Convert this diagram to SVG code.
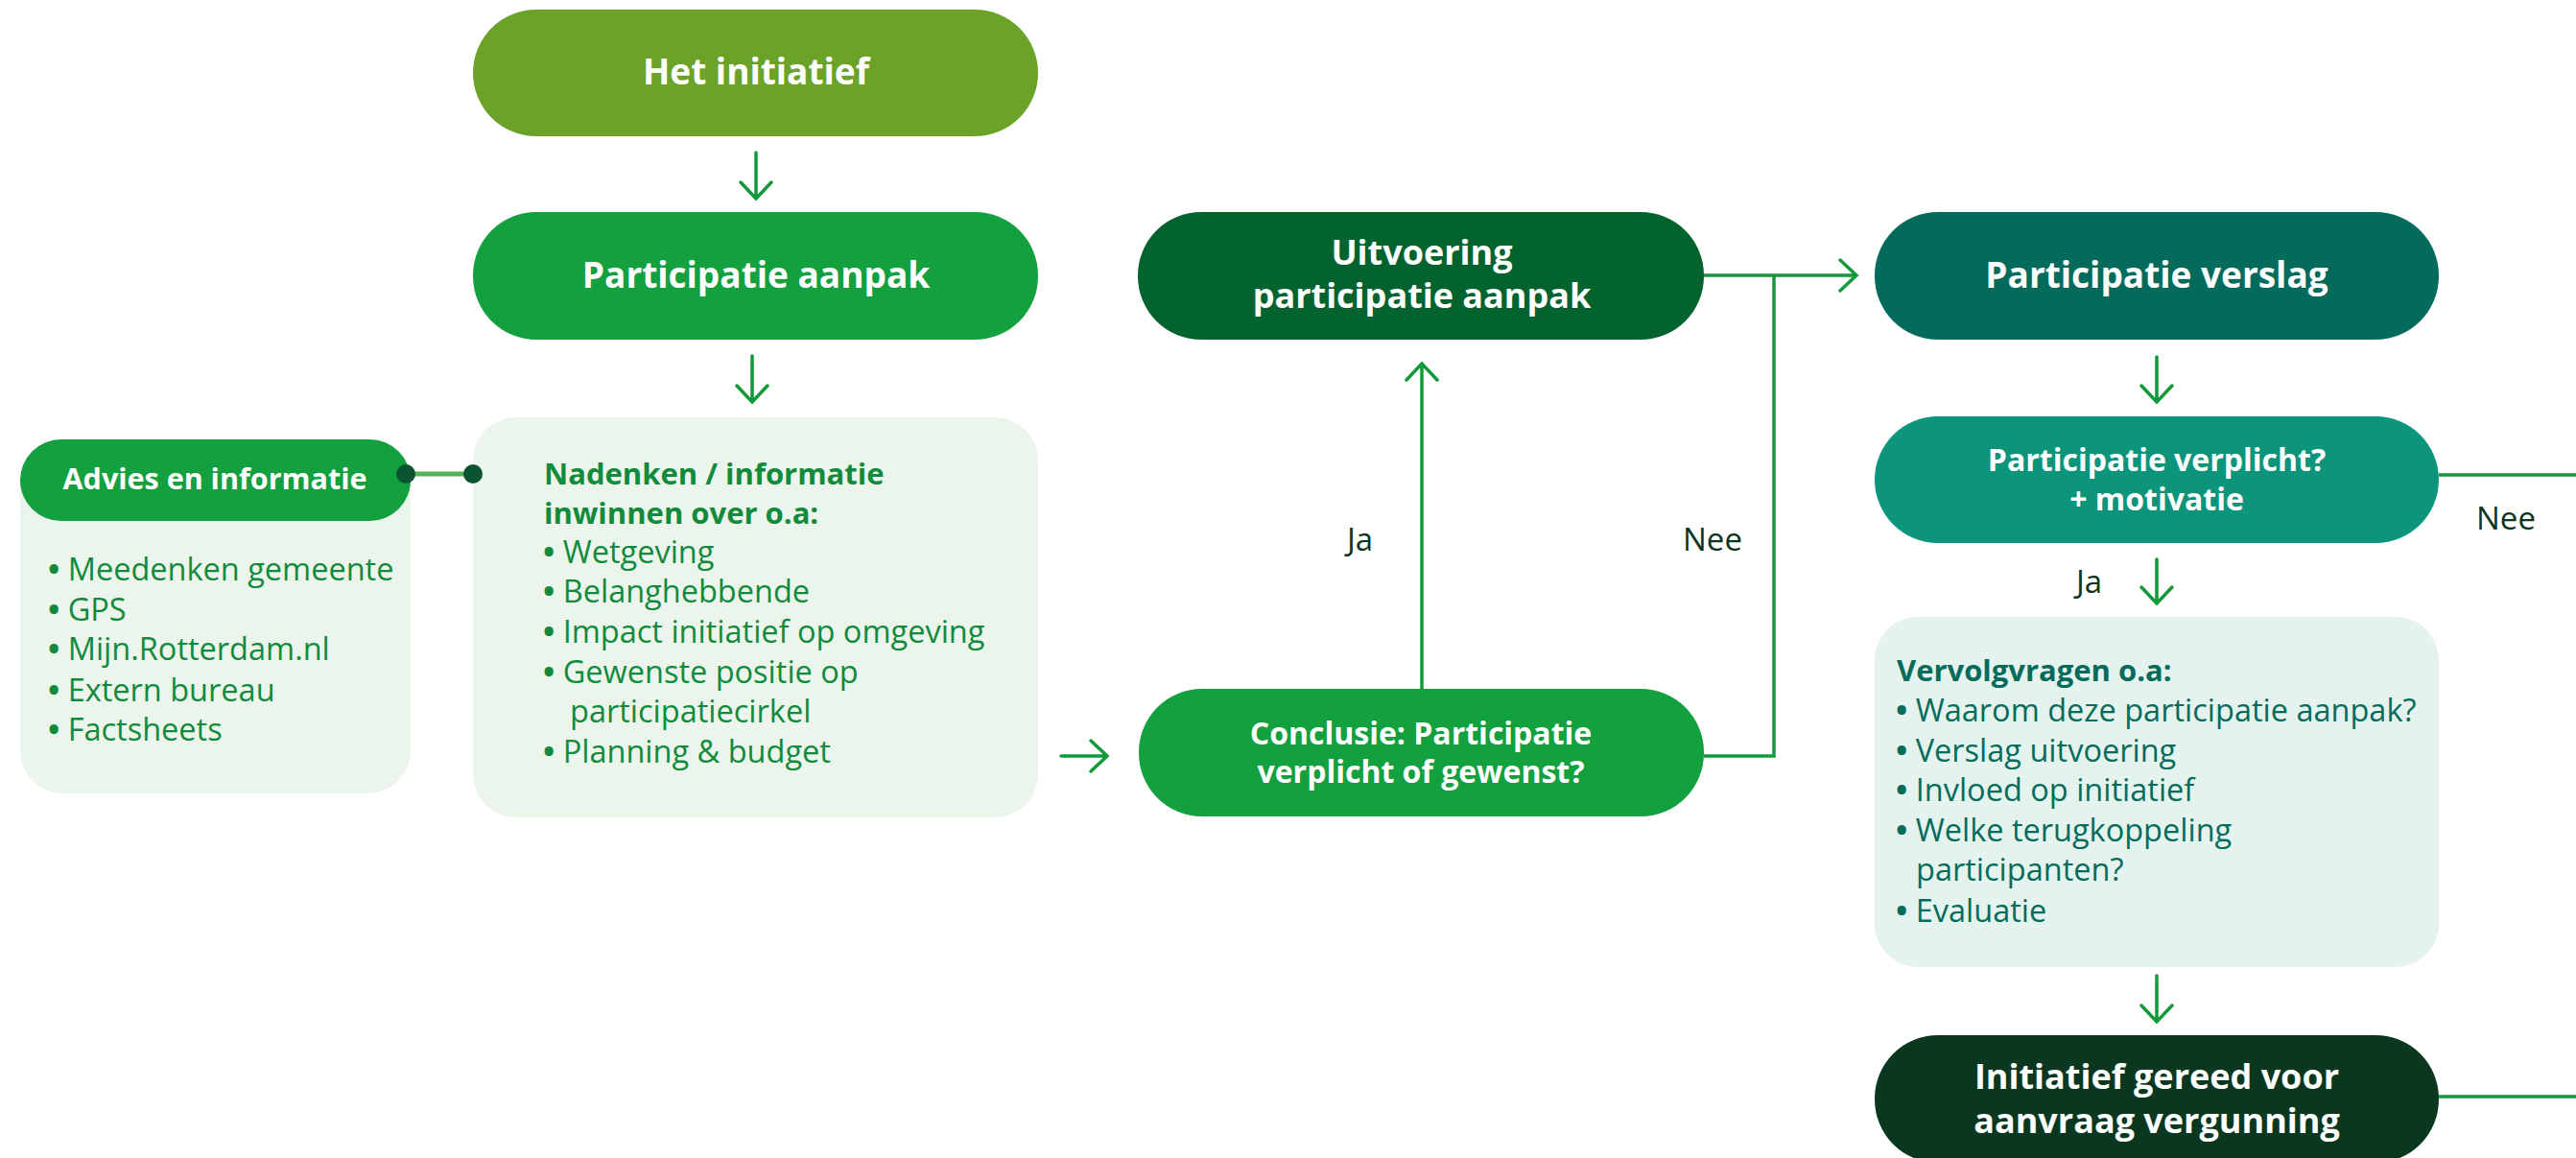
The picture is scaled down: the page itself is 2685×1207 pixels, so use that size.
<svg xmlns="http://www.w3.org/2000/svg" width="2685" height="1207" viewBox="0 0 2685 1207">
<style>
  text { font-family: "Open Sans", "Liberation Sans", sans-serif; }
  .lbl { fill: #ffffff; font-weight: 700; text-anchor: middle; }
  .big { font-size: 37px; }
  .big2 { font-size: 36px; }
  .mid { font-size: 32px; }
  .hdr { font-size: 30.5px; }
  .list { font-size: 32.5px; }
  .title { font-size: 31px; font-weight: 700; }
  .lg { fill: #128A3C; }
  .lt { fill: #056B5A; }
  .b { font-weight: 700; }
  .yn { font-size: 33px; fill: #0D3321; }
  .conn { stroke: #129A3A; stroke-width: 3.5; fill: none; stroke-linecap: round; stroke-linejoin: miter; }
</style>
<rect width="2685" height="1207" fill="#ffffff"/>

<g id="connectors">
  <path class="conn" d="M788 159 V207 M772 190 L788 207 L804 190"/>
  <path class="conn" d="M784 371 V419 M768 402 L784 419 L800 402"/>
  <path class="conn" d="M1106 788 H1154 M1137 772 L1154 788 L1137 804"/>
  <path class="conn" d="M1482 718 V379 M1466 396 L1482 379 L1498 396"/>
  <path class="conn" style="stroke-linecap:butt" d="M1776 788 H1849 V287"/>
  <path class="conn" d="M1776 287 H1935 M1918 271 L1935 287 L1918 303"/>
  <path class="conn" d="M2248 372 V419 M2232 402 L2248 419 L2264 402"/>
  <path class="conn" d="M2248 583 V629 M2232 612 L2248 629 L2264 612"/>
  <path class="conn" style="stroke-linecap:butt" d="M2542 495 H2685"/>
  <path class="conn" d="M2248 1017 V1065 M2232 1048 L2248 1065 L2264 1048"/>
  <path class="conn" style="stroke-linecap:butt" d="M2540 1143 H2685"/>
  <path d="M423 494 H493" stroke="#52B454" stroke-width="5" fill="none"/>
  <text x="1404" y="574" class="yn">Ja</text>
  <text x="1754" y="574" class="yn">Nee</text>
  <text x="2164" y="618" class="yn">Ja</text>
  <text x="2581" y="552" class="yn">Nee</text>
</g>

<g id="het-initiatief">
  <rect x="493" y="10" width="589" height="132" rx="66" fill="#6BA228"/>
  <text x="788" y="88" class="lbl big">Het initiatief</text>
</g>

<g id="participatie-aanpak">
  <rect x="493" y="221" width="589" height="133" rx="66" fill="#13A03F"/>
  <text x="788" y="300" class="lbl big">Participatie aanpak</text>
</g>

<g id="nadenken">
  <rect x="493" y="435" width="589" height="417" rx="45" fill="#EBF5EC"/>
  <text class="title lg"><tspan x="567" y="505">Nadenken / informatie</tspan><tspan x="567" y="546">inwinnen over o.a:</tspan></text>
  <text class="list lg"><tspan x="566" y="587"><tspan class="b">•</tspan> Wetgeving</tspan><tspan x="566" y="628"><tspan class="b">•</tspan> Belanghebbende</tspan><tspan x="566" y="670"><tspan class="b">•</tspan> Impact initiatief op omgeving</tspan><tspan x="566" y="712"><tspan class="b">•</tspan> Gewenste positie op</tspan><tspan x="594" y="753">participatiecirkel</tspan><tspan x="566" y="795"><tspan class="b">•</tspan> Planning &amp; budget</tspan></text>
</g>

<g id="advies">
  <rect x="21" y="458" width="407" height="369" rx="45" fill="#EBF5EC"/>
  <rect x="21" y="458" width="407" height="85" rx="42.5" fill="#13A03F"/>
  <text x="224" y="510" class="lbl hdr">Advies en informatie</text>
  <text class="list lg"><tspan x="50" y="605"><tspan class="b">•</tspan> Meedenken gemeente</tspan><tspan x="50" y="647"><tspan class="b">•</tspan> GPS</tspan><tspan x="50" y="688"><tspan class="b">•</tspan> Mijn.Rotterdam.nl</tspan><tspan x="50" y="731"><tspan class="b">•</tspan> Extern bureau</tspan><tspan x="50" y="772"><tspan class="b">•</tspan> Factsheets</tspan></text>
  <circle cx="423" cy="494" r="10" fill="#0A5530"/>
  <circle cx="493" cy="494" r="10" fill="#0A5530"/>
</g>

<g id="uitvoering">
  <rect x="1186" y="221" width="590" height="133" rx="66" fill="#02632F"/>
  <text class="lbl big2"><tspan x="1482" y="276">Uitvoering</tspan><tspan x="1482" y="321">participatie aanpak</tspan></text>
</g>

<g id="conclusie">
  <rect x="1187" y="718" width="589" height="133" rx="66" fill="#13A03F"/>
  <text class="lbl mid"><tspan x="1481" y="776">Conclusie: Participatie</tspan><tspan x="1481" y="816">verplicht of gewenst?</tspan></text>
</g>

<g id="participatie-verslag">
  <rect x="1954" y="221" width="588" height="133" rx="66" fill="#036B5C"/>
  <text x="2248" y="300" class="lbl big">Participatie verslag</text>
</g>

<g id="participatie-verplicht">
  <rect x="1954" y="434" width="588" height="132" rx="66" fill="#0C957B"/>
  <text class="lbl mid"><tspan x="2248" y="491">Participatie verplicht?</tspan><tspan x="2248" y="532">+ motivatie</tspan></text>
</g>

<g id="vervolgvragen">
  <rect x="1954" y="643" width="588" height="365" rx="45" fill="#E5F3EF"/>
  <text x="1977" y="710" class="title lt">Vervolgvragen o.a:</text>
  <text class="list lt"><tspan x="1976" y="752"><tspan class="b">•</tspan> Waarom deze participatie aanpak?</tspan><tspan x="1976" y="794"><tspan class="b">•</tspan> Verslag uitvoering</tspan><tspan x="1976" y="835"><tspan class="b">•</tspan> Invloed op initiatief</tspan><tspan x="1976" y="877"><tspan class="b">•</tspan> Welke terugkoppeling</tspan><tspan x="1997" y="918">participanten?</tspan><tspan x="1976" y="961"><tspan class="b">•</tspan> Evaluatie</tspan></text>
</g>

<g id="initiatief-gereed">
  <rect x="1954" y="1079" width="588" height="133" rx="66" fill="#0A3720"/>
  <text class="lbl big2"><tspan x="2248" y="1135">Initiatief gereed voor</tspan><tspan x="2248" y="1181">aanvraag vergunning</tspan></text>
</g>
</svg>
